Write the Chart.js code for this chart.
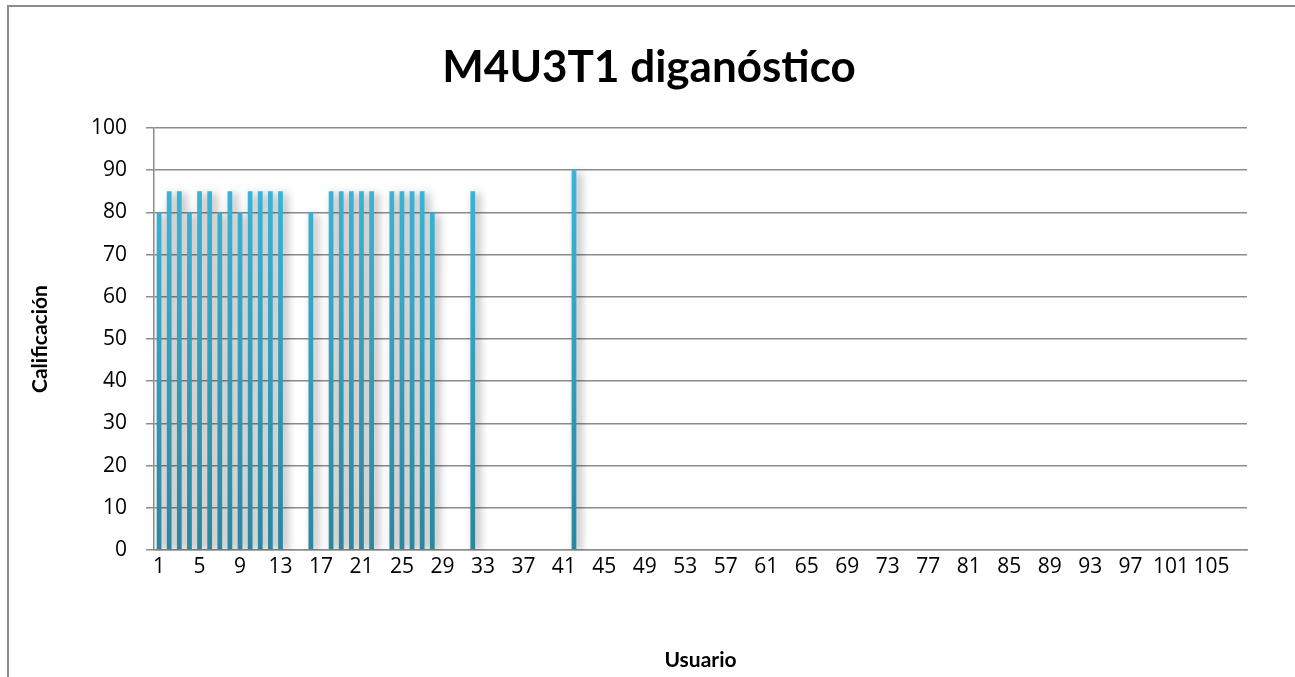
<!DOCTYPE html>
<html>
<head>
<meta charset="utf-8">
<script src="https://cdn.jsdelivr.net/npm/chart.js@4/dist/chart.umd.min.js"></script>
<style>
  html, body { margin: 0; padding: 0; background: #fff; overflow: hidden; }
  #wrap { position: relative; width: 1295px; height: 677px; overflow: hidden; }
  #frame { position: absolute; left: 7px; top: 5px; width: 1400px; height: 800px;
           border: 2px solid #8c8c8c; box-sizing: border-box; pointer-events: none; }
  canvas { position: absolute; left: 0; top: 0; }
</style>
</head>
<body>
<div id="wrap">
  <canvas id="c" width="1295" height="677"></canvas>
  <div id="frame"></div>
</div>
<script>
// ---- data ----
const chartTitle = 'M4U3T1 diganóstico';
const xTitle = 'Usuario';
const yTitle = 'Calificación';
const totalUsuarios = 108;           // number of categories on the x axis
const usuarios = [1, 2, 3, 4, 5, 6, 7, 8, 9, 10, 11, 12, 13, 16, 18, 19, 20, 21, 22, 24, 25, 26, 27, 28, 32, 42];
const calificaciones = [80, 85, 85, 80, 85, 85, 80, 85, 80, 85, 85, 85, 85, 80, 85, 85, 85, 85, 85, 85, 85, 85, 85, 80, 85, 90];
const yTicks = [0, 10, 20, 30, 40, 50, 60, 70, 80, 90, 100];

// build category labels and full value table from the arrays above
const categorias = [];
const valores = [];
for (let i = 1; i <= totalUsuarios; i++) {
  categorias.push(String(i));
  const k = usuarios.indexOf(i);
  valores.push(k >= 0 ? calificaciones[k] : null);
}

const shadowPlugin = {
  id: 'barShadow',
  beforeDatasetsDraw(chart) {
    const ctx = chart.ctx;
    ctx.save();
    ctx.shadowColor = 'rgba(0,0,0,0.38)';
    ctx.shadowBlur = 8;
    ctx.shadowOffsetX = 4;
    ctx.shadowOffsetY = 2;
  },
  afterDatasetsDraw(chart) {
    chart.ctx.restore();
  }
};

// chart title centred on the whole chart frame (as in the reference)
const titlePlugin = {
  id: 'frameTitle',
  afterDraw(chart) {
    const ctx = chart.ctx;
    ctx.save();
    ctx.font = 'bold 44px Lato';
    ctx.fillStyle = '#000';
    ctx.textAlign = 'center';
    ctx.textBaseline = 'middle';
    ctx.fillText(chartTitle, 649, 68);
    ctx.restore();
  }
};

const gridColor = '#8c8c8c';

new Chart(document.getElementById('c'), {
  type: 'bar',
  data: {
    labels: categorias,
    datasets: [{
      data: valores,
      backgroundColor(ctx) {
        const ca = ctx.chart.chartArea;
        if (!ca) return '#33a6c8';
        const g = ctx.chart.ctx.createLinearGradient(0, ca.top, 0, ca.bottom);
        g.addColorStop(0, '#3cbbe0');
        g.addColorStop(1, '#2a879f');
        return g;
      },
      borderWidth: 0,
      barPercentage: 0.47,
      categoryPercentage: 1.0
    }]
  },
  options: {
    responsive: false,
    animation: false,
    devicePixelRatio: 1,
    layout: { padding: { left: 0, right: 48, top: 128, bottom: 0 } },
    plugins: {
      legend: { display: false },
      tooltip: { enabled: false },
      title: { display: false }
    },
    scales: {
      x: {
        grid: { display: false, drawTicks: false },
        border: { display: true, color: gridColor, width: 1.5 },
        ticks: {
          autoSkip: false,
          maxRotation: 0,
          minRotation: 0,
          padding: 4,
          color: '#000',
          font: { family: 'Open Sans', size: 21 },
          callback(value, index) { return index % 4 === 0 ? categorias[index] : ''; }
        },
        title: {
          display: true,
          text: xTitle,
          color: '#000',
          font: { family: 'Lato', size: 21, weight: 'bold', lineHeight: 1.2 },
          padding: { top: 0, bottom: 4.5 }
        },
        afterFit(scale) { scale.height = 127; }
      },
      y: {
        min: 0,
        max: 100,
        afterBuildTicks(scale) { scale.ticks = yTicks.map(v => ({ value: v })); },
        grid: { color: gridColor, lineWidth: 1.5, drawTicks: true, tickLength: 8 },
        border: { display: true, color: gridColor, width: 1.5 },
        ticks: {
          padding: 19,
          color: '#000',
          font: { family: 'Open Sans', size: 21 }
        },
        title: {
          display: true,
          text: yTitle,
          color: '#000',
          font: { family: 'Lato', size: 21, weight: 'bold', lineHeight: 1.2 },
          padding: { top: 28, bottom: 0 }
        },
        afterFit(scale) { scale.width = 154; }
      }
    }
  },
  plugins: [shadowPlugin, titlePlugin]
});
</script>
</body>
</html>
